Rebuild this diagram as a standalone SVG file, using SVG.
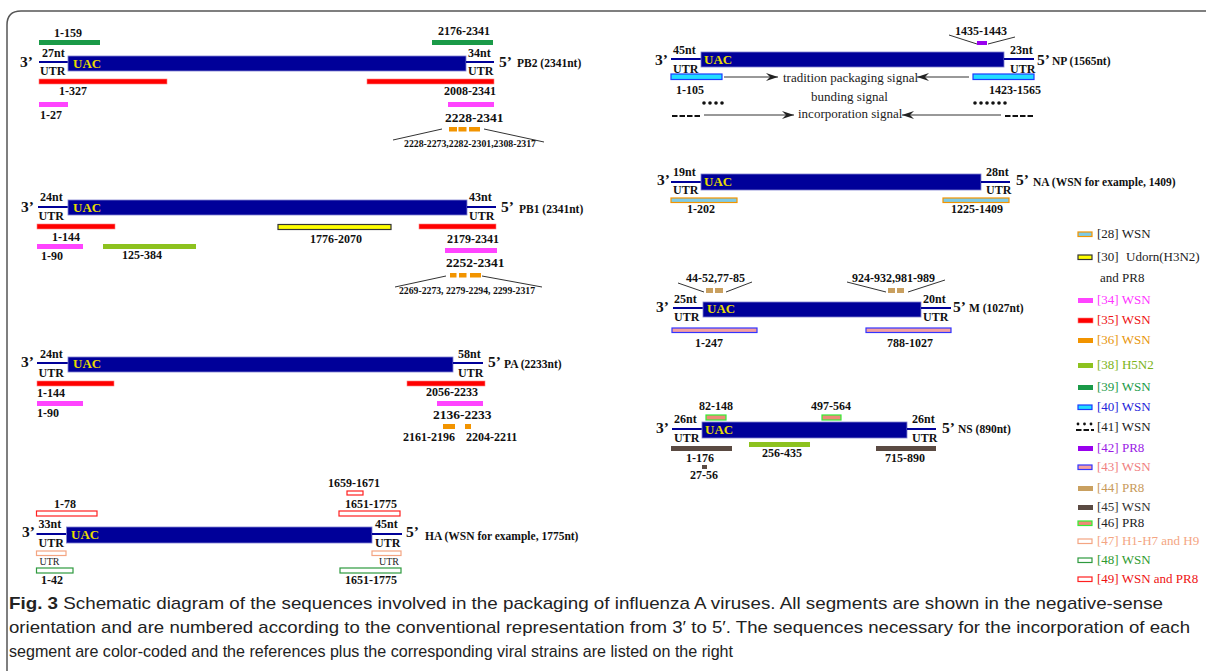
<svg xmlns="http://www.w3.org/2000/svg" width="1206" height="671" viewBox="0 0 1206 671">
<defs>
<style>
.t{font-family:"Liberation Serif","Times New Roman",serif;font-weight:bold;fill:#111}
.s12{font-size:12px}
.s13{font-size:13.5px}
.end{font-size:15.5px}
.nm{font-size:11.5px}
.uac{font-size:13px;fill:#e8dc00}
.sm{font-size:9.5px}
.r{font-family:"Liberation Serif","Times New Roman",serif;font-weight:normal;fill:#222}
.bar{fill:#000099;stroke:#8080d0;stroke-width:0.8}
.utr{stroke:#000099;stroke-width:2}
.red{fill:#ff0000;stroke:#ff8080;stroke-width:0.6}
.mag{fill:#ff44ff}
.grn{fill:#1a9a48}
.lgr{fill:#8dc21f}
.org{fill:#f29400}
.yel{fill:#ffff00;stroke:#333;stroke-width:1.2}
.cyan{fill:#22ddff;stroke:#1a3cff;stroke-width:1.2}
.na{fill:#7ecbe6;stroke:#f29400;stroke-width:1.2}
.pur{fill:#9900ee}
.pnk{fill:#f4a0a0;stroke:#3333ff;stroke-width:1.2}
.tan{fill:#c9a060}
.brn{fill:#5a4a42}
.ns46{fill:#ef8a78;stroke:#33ee33;stroke-width:1.2}
.o47{fill:#fff;stroke:#f4a582;stroke-width:1.2}
.o48{fill:#fff;stroke:#2e9a3e;stroke-width:1.2}
.o49{fill:#fff;stroke:#ff2020;stroke-width:1.2}
.cl{stroke:#333;stroke-width:1;fill:none}
.arr{stroke:#333;stroke-width:1;fill:none;marker-end:url(#ah)}
.dash{stroke:#111;stroke-width:2;stroke-dasharray:5.5 2;fill:none}
.leg{font-family:"Liberation Serif","Times New Roman",serif;font-size:13px}
.cap{font-family:"Liberation Sans Narrow","Liberation Sans",Arial,sans-serif;font-size:17px;fill:#222}
</style>
<marker id="ah" markerWidth="14" markerHeight="8" refX="12" refY="4" orient="auto" markerUnits="userSpaceOnUse"><path d="M0,0 L12,4 L0,8 L4,4 Z" fill="#222"/></marker>
</defs>
<rect width="1206" height="671" fill="#fff"/>
<path d="M7,671 V25 Q7,11 21,11 H1206" fill="none" stroke="#555" stroke-width="1.5"/>

<g id="pb2">
<text class="t s12" x="54" y="37">1-159</text>
<rect class="grn" x="39" y="40" width="61" height="5"/>
<text class="t s12" x="438" y="35">2176-2341</text>
<rect class="grn" x="432" y="40" width="61" height="5"/>
<text class="t end" x="20" y="67">3’</text>
<line class="utr" x1="39" y1="62" x2="68" y2="62"/>
<rect class="bar" x="68" y="56" width="398" height="15"/>
<line class="utr" x1="466" y1="62" x2="494" y2="62"/>
<text class="t s12" x="42" y="57">27nt</text>
<text class="t s12" x="40" y="75">UTR</text>
<text class="t uac" x="73" y="68">UAC</text>
<text class="t s12" x="468" y="57">34nt</text>
<text class="t s12" x="468" y="75">UTR</text>
<text class="t end" x="499" y="67">5’</text>
<text class="t nm" x="517" y="67">PB2 (2341nt)</text>
<rect class="red" x="39" y="79" width="128" height="5"/>
<rect class="red" x="367" y="79" width="127" height="5"/>
<text class="t s12" x="59" y="95">1-327</text>
<text class="t s12" x="444" y="95">2008-2341</text>
<rect class="mag" x="39" y="102" width="29" height="5"/>
<rect class="mag" x="448" y="102" width="46" height="5"/>
<text class="t s12" x="40" y="119">1-27</text>
<text class="t s13" x="445" y="122">2228-2341</text>
<rect class="org" x="449" y="127" width="8" height="4.5"/>
<rect class="org" x="458.5" y="127" width="8" height="4.5"/>
<rect class="org" x="469" y="127" width="11" height="4.5"/>
<text class="t sm" x="404" y="147" textLength="132" lengthAdjust="spacingAndGlyphs">2228-2273,2282-2301,2308-2317</text>
</g>

<g id="pb1">
<text class="t end" x="21" y="212">3’</text>
<line class="utr" x1="38" y1="207" x2="68" y2="207"/>
<rect class="bar" x="68" y="200" width="399" height="15"/>
<line class="utr" x1="467" y1="207" x2="496" y2="207"/>
<text class="t s12" x="40" y="201">24nt</text>
<text class="t s12" x="38.5" y="220">UTR</text>
<text class="t uac" x="73" y="212">UAC</text>
<text class="t s12" x="469" y="201">43nt</text>
<text class="t s12" x="469" y="220">UTR</text>
<text class="t end" x="501" y="212">5’</text>
<text class="t nm" x="519" y="213">PB1 (2341nt)</text>
<rect class="red" x="37" y="224" width="78" height="5"/>
<rect class="red" x="419" y="224" width="77" height="5"/>
<rect class="yel" x="278" y="224.5" width="113" height="5"/>
<text class="t s12" x="52" y="241">1-144</text>
<text class="t s12" x="310" y="243">1776-2070</text>
<text class="t s12" x="447" y="243">2179-2341</text>
<rect class="mag" x="37" y="244" width="46" height="5"/>
<rect class="lgr" x="103" y="244" width="93" height="5"/>
<rect class="mag" x="445" y="248" width="52" height="5"/>
<text class="t s12" x="41" y="260">1-90</text>
<text class="t s12" x="122" y="259">125-384</text>
<text class="t s13" x="446" y="267">2252-2341</text>
<rect class="org" x="450" y="273" width="6.5" height="4.5"/>
<rect class="org" x="459" y="273" width="7.5" height="4.5"/>
<rect class="org" x="470" y="273" width="11" height="4.5"/>
<text class="t sm" x="399" y="294" textLength="136" lengthAdjust="spacingAndGlyphs">2269-2273, 2279-2294, 2299-2317</text>
</g>

<g id="pa">
<text class="t end" x="21" y="367">3’</text>
<line class="utr" x1="37" y1="363" x2="68" y2="363"/>
<rect class="bar" x="68" y="357" width="385" height="15"/>
<line class="utr" x1="453" y1="363" x2="483" y2="363"/>
<text class="t s12" x="40" y="358">24nt</text>
<text class="t s12" x="38.5" y="377">UTR</text>
<text class="t uac" x="73" y="368">UAC</text>
<text class="t s12" x="458" y="358">58nt</text>
<text class="t s12" x="458" y="377">UTR</text>
<text class="t end" x="488" y="367">5’</text>
<text class="t nm" x="504" y="368">PA (2233nt)</text>
<rect class="red" x="37" y="381" width="77" height="5"/>
<rect class="red" x="407" y="381" width="78" height="5"/>
<text class="t s12" x="37" y="397">1-144</text>
<text class="t s12" x="426" y="396">2056-2233</text>
<rect class="mag" x="37" y="401" width="46" height="5"/>
<rect class="mag" x="437" y="401" width="46" height="5"/>
<text class="t s12" x="37" y="417">1-90</text>
<text class="t s13" x="433" y="419">2136-2233</text>
<rect class="org" x="443" y="424" width="12" height="5"/>
<rect class="org" x="465" y="424" width="6" height="5"/>
<text class="t s12" x="403" y="441">2161-2196</text>
<text class="t s12" x="466" y="441">2204-2211</text>
</g>

<g id="ha">
<text class="t s12" x="328" y="487">1659-1671</text>
<rect class="o49" x="347" y="491" width="16" height="4"/>
<text class="t s12" x="54" y="508">1-78</text>
<text class="t s12" x="345" y="508">1651-1775</text>
<rect class="o49" x="36.5" y="511" width="60.5" height="5"/>
<rect class="o49" x="339" y="511" width="61" height="5"/>
<text class="t end" x="22" y="537">3’</text>
<line class="utr" x1="36.5" y1="534" x2="66.5" y2="534"/>
<rect class="bar" x="66.5" y="527" width="305.5" height="16"/>
<line class="utr" x1="372" y1="534" x2="402" y2="534"/>
<text class="t s12" x="38.5" y="528">33nt</text>
<text class="t s12" x="38.5" y="547">UTR</text>
<text class="t uac" x="71" y="539">UAC</text>
<text class="t s12" x="375" y="528">45nt</text>
<text class="t s12" x="375" y="547">UTR</text>
<text class="t end" x="406" y="537">5’</text>
<text class="t nm" x="425" y="540">HA (WSN for example, 1775nt)</text>
<rect class="o47" x="36.5" y="551" width="29.5" height="4.5"/>
<rect class="o47" x="372" y="551" width="29" height="4.5"/>
<text class="r" font-size="10" x="39.5" y="565">UTR</text>
<text class="r" font-size="10" x="379" y="565">UTR</text>
<rect class="o48" x="36.5" y="568" width="36.5" height="5"/>
<rect class="o48" x="340" y="568" width="61" height="5"/>
<text class="t s12" x="41" y="584">1-42</text>
<text class="t s12" x="345" y="584">1651-1775</text>
</g>

<g id="np">
<text class="t s12" x="955" y="35">1435-1443</text>
<rect class="pur" x="977" y="41" width="10" height="4"/>
<text class="t end" x="655" y="65">3’</text>
<line class="utr" x1="671" y1="59" x2="701" y2="59"/>
<rect class="bar" x="701" y="52" width="303" height="15"/>
<line class="utr" x1="1004" y1="59" x2="1034" y2="59"/>
<text class="t s12" x="673" y="54">45nt</text>
<text class="t s12" x="673" y="73">UTR</text>
<text class="t uac" x="704" y="64">UAC</text>
<text class="t s12" x="1010" y="54">23nt</text>
<text class="t s12" x="1010" y="73">UTR</text>
<text class="t end" x="1037" y="65">5’</text>
<text class="t nm" x="1052" y="65">NP (1565nt)</text>
<rect class="cyan" x="671" y="74" width="51" height="5.5"/>
<rect class="cyan" x="973" y="74" width="61" height="5.5"/>
<text class="r" font-size="13" x="783" y="82">tradition packaging signal</text>
<text class="t s12" x="676" y="94">1-105</text>
<text class="t s12" x="989" y="94">1423-1565</text>
<text class="r" font-size="13" x="811" y="101">bunding signal</text>
<g fill="#111">
<circle cx="704" cy="103" r="1.8"/><circle cx="710" cy="103" r="1.8"/><circle cx="716" cy="103" r="1.8"/><circle cx="722" cy="103" r="1.8"/>
<circle cx="975" cy="103" r="1.8"/><circle cx="981" cy="103" r="1.8"/><circle cx="987" cy="103" r="1.8"/><circle cx="993" cy="103" r="1.8"/><circle cx="999" cy="103" r="1.8"/><circle cx="1005" cy="103" r="1.8"/>
</g>
<line class="dash" x1="672" y1="116" x2="701" y2="116"/>
<line class="dash" x1="1005" y1="116" x2="1034" y2="116"/>
<text class="r" font-size="13" x="798" y="118">incorporation signal</text>
</g>

<g id="na">
<text class="t end" x="657" y="185">3’</text>
<line class="utr" x1="671" y1="182" x2="701" y2="182"/>
<rect class="bar" x="701" y="174" width="280" height="16"/>
<line class="utr" x1="981" y1="182" x2="1010" y2="182"/>
<text class="t s12" x="673" y="176">19nt</text>
<text class="t s12" x="673" y="194">UTR</text>
<text class="t uac" x="704" y="186">UAC</text>
<text class="t s12" x="986" y="176">28nt</text>
<text class="t s12" x="986" y="194">UTR</text>
<text class="t end" x="1016" y="185">5’</text>
<text class="t nm" x="1033" y="186">NA (WSN for example, 1409)</text>
<rect class="na" x="671" y="198" width="66" height="4.5"/>
<rect class="na" x="943" y="198" width="66" height="4.5"/>
<text class="t s12" x="687" y="213">1-202</text>
<text class="t s12" x="951" y="213">1225-1409</text>
</g>

<g id="m">
<text class="t s12" x="686" y="282">44-52,77-85</text>
<rect class="tan" x="706" y="288" width="7" height="5"/>
<rect class="tan" x="715" y="288" width="8" height="5"/>
<text class="t s12" x="852" y="282">924-932,981-989</text>
<rect class="tan" x="888" y="288" width="7" height="5"/>
<rect class="tan" x="897" y="288" width="7" height="5"/>
<text class="t end" x="656" y="312">3’</text>
<line class="utr" x1="673" y1="308" x2="703" y2="308"/>
<rect class="bar" x="703" y="302" width="218" height="15"/>
<line class="utr" x1="921" y1="308" x2="951" y2="308"/>
<text class="t s12" x="674" y="303">25nt</text>
<text class="t s12" x="674" y="321">UTR</text>
<text class="t uac" x="707" y="313">UAC</text>
<text class="t s12" x="923" y="303">20nt</text>
<text class="t s12" x="923" y="321">UTR</text>
<text class="t end" x="953" y="312">5’</text>
<text class="t nm" x="969" y="312">M (1027nt)</text>
<rect class="pnk" x="672" y="328" width="85" height="4.5"/>
<rect class="pnk" x="866" y="328" width="85" height="4.5"/>
<text class="t s12" x="695" y="347">1-247</text>
<text class="t s12" x="887" y="347">788-1027</text>
</g>

<g id="ns">
<text class="t s12" x="699" y="410">82-148</text>
<rect class="ns46" x="706" y="415" width="20" height="5"/>
<text class="t s12" x="811" y="410">497-564</text>
<rect class="ns46" x="822" y="415" width="19" height="5"/>
<text class="t end" x="656" y="433">3’</text>
<line class="utr" x1="672" y1="429" x2="702" y2="429"/>
<rect class="bar" x="702" y="422" width="205" height="16"/>
<line class="utr" x1="907" y1="429" x2="936" y2="429"/>
<text class="t s12" x="674" y="423">26nt</text>
<text class="t s12" x="674" y="442">UTR</text>
<text class="t uac" x="705" y="434">UAC</text>
<text class="t s12" x="912" y="423">26nt</text>
<text class="t s12" x="912" y="442">UTR</text>
<text class="t end" x="942" y="433">5’</text>
<text class="t nm" x="958" y="433">NS (890nt)</text>
<rect class="brn" x="671" y="446" width="61" height="5"/>
<rect class="brn" x="876" y="446" width="60" height="5"/>
<rect class="lgr" x="749" y="442" width="61" height="5"/>
<text class="t s12" x="762" y="457">256-435</text>
<text class="t s12" x="686" y="462">1-176</text>
<rect class="brn" x="702" y="465" width="5" height="4"/>
<text class="t s12" x="690" y="479">27-56</text>
<text class="t s12" x="885" y="462">715-890</text>
</g>

<g id="connectors">
<line class="cl" x1="393" y1="140" x2="442" y2="129"/>
<line class="cl" x1="484" y1="129" x2="544" y2="142"/>
<line class="cl" x1="395" y1="287" x2="446" y2="276"/>
<line class="cl" x1="482" y1="276" x2="542" y2="287"/>
<line class="cl" x1="949" y1="35" x2="977" y2="44"/>
<line class="cl" x1="988" y1="44" x2="1015" y2="37"/>
<line class="cl" x1="678" y1="283" x2="704" y2="292"/>
<line class="cl" x1="726" y1="292" x2="752" y2="282"/>
<line class="cl" x1="847" y1="282" x2="886" y2="292"/>
<line class="cl" x1="908" y1="292" x2="945" y2="280"/>
<line class="arr" x1="724" y1="77" x2="778" y2="77"/>
<line class="arr" x1="969" y1="77" x2="917" y2="77"/>
<line class="arr" x1="704" y1="115" x2="794" y2="115"/>
<line class="arr" x1="1001" y1="115" x2="902" y2="115"/>
</g>

<g id="legend">
<rect class="na" x="1078" y="232" width="14" height="4.5"/>
<text class="leg" x="1097" y="238" fill="#222">[28] WSN</text>
<rect class="yel" x="1078" y="255" width="14" height="4.5"/>
<text class="leg" x="1097" y="261" fill="#222">[30]<tspan x="1126">Udorn(H3N2)</tspan></text>
<text class="leg" x="1100" y="282" fill="#222">and PR8</text>
<rect class="mag" x="1078" y="298" width="15" height="5"/>
<text class="leg" x="1097" y="304" fill="#ff33ff">[34] WSN</text>
<rect class="red" x="1078" y="318" width="15" height="5"/>
<text class="leg" x="1097" y="324" fill="#ee1111">[35] WSN</text>
<rect class="org" x="1078" y="338" width="15" height="5"/>
<text class="leg" x="1097" y="344" fill="#e8950a">[36] WSN</text>
<rect class="lgr" x="1078" y="363" width="15" height="5"/>
<text class="leg" x="1097" y="369" fill="#7ab317">[38] H5N2</text>
<rect class="grn" x="1078" y="385" width="15" height="5"/>
<text class="leg" x="1097" y="391" fill="#1a9a48">[39] WSN</text>
<rect class="cyan" x="1078" y="405" width="14" height="4.5"/>
<text class="leg" x="1097" y="411" fill="#2323d9">[40] WSN</text>
<g fill="#111"><circle cx="1078" cy="424" r="1.4"/><circle cx="1084.5" cy="424" r="1.4"/><circle cx="1091" cy="424" r="1.4"/></g>
<line class="dash" x1="1076" y1="430" x2="1094" y2="430" stroke-dasharray="4.5 2"/>
<text class="leg" x="1097" y="431" fill="#222">[41] WSN</text>
<rect class="pur" x="1078" y="446" width="15" height="5"/>
<text class="leg" x="1097" y="452" fill="#9a1ae6">[42] PR8</text>
<rect class="pnk" x="1078" y="465" width="14" height="4.5"/>
<text class="leg" x="1097" y="471" fill="#f08080">[43] WSN</text>
<rect class="tan" x="1078" y="486" width="15" height="5"/>
<text class="leg" x="1097" y="492" fill="#c89a5a">[44] PR8</text>
<rect class="brn" x="1078" y="505" width="15" height="5"/>
<text class="leg" x="1097" y="511" fill="#333">[45] WSN</text>
<rect class="ns46" x="1078" y="521" width="14" height="4.5"/>
<text class="leg" x="1097" y="527" fill="#222">[46] PR8</text>
<rect class="o47" x="1078" y="539" width="14" height="4.5"/>
<text class="leg" x="1097" y="545" fill="#f4a582">[47] H1-H7 and H9</text>
<rect class="o48" x="1078" y="558" width="14" height="4.5"/>
<text class="leg" x="1097" y="564" fill="#2e9a2e">[48] WSN</text>
<rect class="o49" x="1078" y="577" width="14" height="4.5"/>
<text class="leg" x="1097" y="583" fill="#ee1111">[49] WSN and PR8</text>
</g>

<g id="caption">
<text class="cap" x="9" y="609" textLength="1154" lengthAdjust="spacingAndGlyphs"><tspan font-weight="bold">Fig. 3</tspan>  Schematic diagram of the sequences involved in the packaging of influenza A viruses. All segments are shown in the negative-sense</text>
<text class="cap" x="9" y="633" textLength="1181" lengthAdjust="spacingAndGlyphs">orientation and are numbered according to the conventional representation from 3′ to 5′. The sequences necessary for the incorporation of each</text>
<text class="cap" x="9" y="657" textLength="724" lengthAdjust="spacingAndGlyphs">segment are color-coded and the references plus the corresponding viral strains are listed on the right</text>
</g>
</svg>
